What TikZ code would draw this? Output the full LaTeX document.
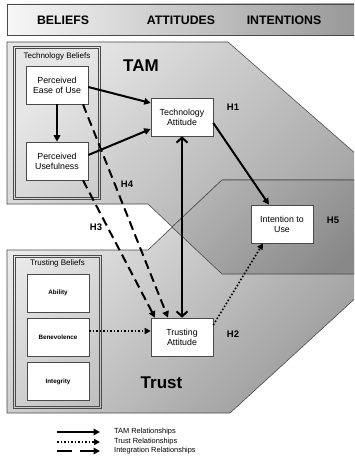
\documentclass[tikz,border=0pt]{standalone}
\usepackage{fontspec}
\setmainfont{Liberation Sans}
\usetikzlibrary{arrows.meta,calc}
\definecolor{edge}{HTML}{4A4A4A}
\definecolor{tamlight}{HTML}{E6E6E6}
\definecolor{tamdark}{HTML}{A0A0A0}
\definecolor{trustlight}{HTML}{EAEAEA}
\definecolor{trustdark}{HTML}{9A9A9A}
\definecolor{intlight}{HTML}{B4B4B4}
\definecolor{intdark}{HTML}{888888}
\begin{document}
\begin{tikzpicture}[x=1pt,y=-1pt,
  region/.style={draw=edge, line width=0.6pt},
  groupbox/.style={draw=edge, line width=0.6pt},
  groupinner/.style={draw=edge, line width=0.6pt},
  conceptbox/.style={draw=edge, fill=white, line width=0.6pt, minimum width=62pt, minimum height=38pt,
    inner sep=1pt, align=center, font=\fontsize{8.8}{10}\selectfont},
  beliefbox/.style={conceptbox, font=\bfseries\fontsize{6.3}{7}\selectfont},
  grouptitle/.style={inner sep=0pt, font=\fontsize{8}{9}\selectfont},
  hyp/.style={inner sep=0pt, font=\bfseries\fontsize{9.5}{10}\selectfont},
  modelname/.style={inner sep=0pt, font=\bfseries\fontsize{17}{18}\selectfont},
  stage/.style={inner sep=0pt, font=\bfseries\fontsize{12.3}{13}\selectfont},
  legendtext/.style={anchor=west, inner sep=0pt, font=\fontsize{7.4}{8}\selectfont},
  tamrel/.style={line width=2pt, -{Triangle[length=6.5pt,width=6.5pt]}},
  trustrel/.style={line width=1.6pt, dash pattern=on 1.6pt off 1.9pt, -{Triangle[length=6pt,width=6pt]}},
  integrel/.style={line width=2pt, dash pattern=on 9pt off 5pt, -{Triangle[length=6.5pt,width=6.5pt]}},
  mutual/.style={line width=2pt, arrows={Straight Barb[length=5pt,width=11pt]-Straight Barb[length=5pt,width=11pt]}}
]
\useasboundingbox (0,0) rectangle (354,460);

% background regions
\begin{scope}
  \clip (0,0) rectangle (354,460);
  % stage header
  \shade[left color=white!97!black, right color=black!42] (7,4) rectangle (372,35);
  \draw[region] (372,4) -- (7,4) -- (7,35) -- (372,35);
  % TAM region
  \shade[top color=tamlight, bottom color=tamdark, shading angle=45]
    (7,42) -- (228,42) -- (372,168) -- (372,200) -- (222,274) -- (148,204) -- (7,204) -- cycle;
  \draw[region] (7,42) -- (228,42) -- (372,168) -- (372,200) -- (222,274) -- (148,204) -- (7,204) -- cycle;
  % Trust region
  \shade[top color=trustlight, bottom color=trustdark, shading angle=45]
    (7,250) -- (148,250) -- (222,180) -- (372,180) -- (372,283) -- (230,413) -- (7,413) -- cycle;
  \draw[region] (7,250) -- (148,250) -- (222,180) -- (372,180) -- (372,283) -- (230,413) -- (7,413) -- cycle;
  % intention region
  \shade[top color=intlight, bottom color=intdark, shading angle=45]
    (172,227) -- (222,180) -- (372,180) -- (372,274) -- (222,274) -- cycle;
  \draw[region] (372,180) -- (222,180) -- (172,227) -- (222,274) -- (372,274);
\end{scope}

% stage headings
\node[stage] (hbel) at (63,20) {BELIEFS};
\node[stage] (hatt) at (181,20) {ATTITUDES};
\node[stage] (hint) at (284,20) {INTENTIONS};

% belief groups: double outline drawn as two nested frames
\node[groupbox, minimum width=87pt, minimum height=153pt] (techgrp) at (57,123) {};
\draw[groupinner] ([shift={(2.2pt,-2.2pt)}]techgrp.north west) rectangle ([shift={(-2.2pt,2.2pt)}]techgrp.south east);
\node[grouptitle] (techtitle) at (57,56) {Technology Beliefs};
\node[groupbox, minimum width=88pt, minimum height=153pt] (trustgrp) at (57.5,332) {};
\draw[groupinner] ([shift={(2.2pt,-2.2pt)}]trustgrp.north west) rectangle ([shift={(-2.2pt,2.2pt)}]trustgrp.south east);
\node[grouptitle] (trusttitle) at (57.5,263) {Trusting Beliefs};

% concepts
\node[conceptbox] (peou) at (57,85) {Perceived\\Ease of Use};
\node[conceptbox] (pu) at (57,161) {Perceived\\Usefulness};
\node[conceptbox] (ta) at (182,117) {Technology\\Attitude};
\node[conceptbox] (iu) at (282,224) {Intention to\\Use};
\node[conceptbox] (tra) at (182,337) {Trusting\\Attitude};
\node[beliefbox] (abil) at (58,293) {Ability};
\node[beliefbox] (benev) at (58,337) {Benevolence};
\node[beliefbox] (integ) at (58,381.5) {Integrity};

% model names and hypotheses
\node[modelname] (tamname) at (141,66) {TAM};
\node[modelname] (trustname) at (161.5,383) {Trust};
\node[hyp] (h1) at (233,107) {H1};
\node[hyp] (h2) at (233,334) {H2};
\node[hyp] (h3) at (96,227) {H3};
\node[hyp] (h4) at (127,184) {H4};
\node[hyp] (h5) at (333,220) {H5};

% relationships
\draw[tamrel] ([yshift=-2pt]peou.east) -- ([yshift=14pt]ta.west);
\draw[tamrel] ([yshift=6pt]pu.east) -- ([yshift=-12pt]ta.west);
\draw[tamrel] (peou.south) -- (pu.north);
\draw[tamrel] ([yshift=-6pt]ta.east) -- ([xshift=-13pt]iu.north);
\draw[mutual] (ta.south) -- (tra.north);
\draw[trustrel] ([yshift=6pt]benev.east) -- ([yshift=6pt]tra.west);
\draw[trustrel] ([yshift=12pt]tra.east) -- ([xshift=-19pt]iu.south);
\draw[integrel] ([xshift=26pt]pu.south) -- ([xshift=-27pt]tra.north);
\draw[integrel] ([xshift=26pt]peou.south) -- ([xshift=-14pt]tra.north);

% legend
\coordinate (la1) at (57,432); \coordinate (lb1) at (100,432);
\coordinate (la2) at (57,442); \coordinate (lb2) at (100,442);
\coordinate (la3) at (57,451); \coordinate (lb3) at (100,451);
\draw[tamrel] (la1) -- (lb1);
\draw[trustrel] (la2) -- (lb2);
\draw[integrel, dash pattern=on 15pt off 8pt] (la3) -- (lb3);
\node[legendtext] (lt1) at (114,432) {TAM Relationships};
\node[legendtext] (lt2) at (114,441.5) {Trust Relationships};
\node[legendtext] (lt3) at (114,451) {Integration Relationships};
\end{tikzpicture}
\end{document}
